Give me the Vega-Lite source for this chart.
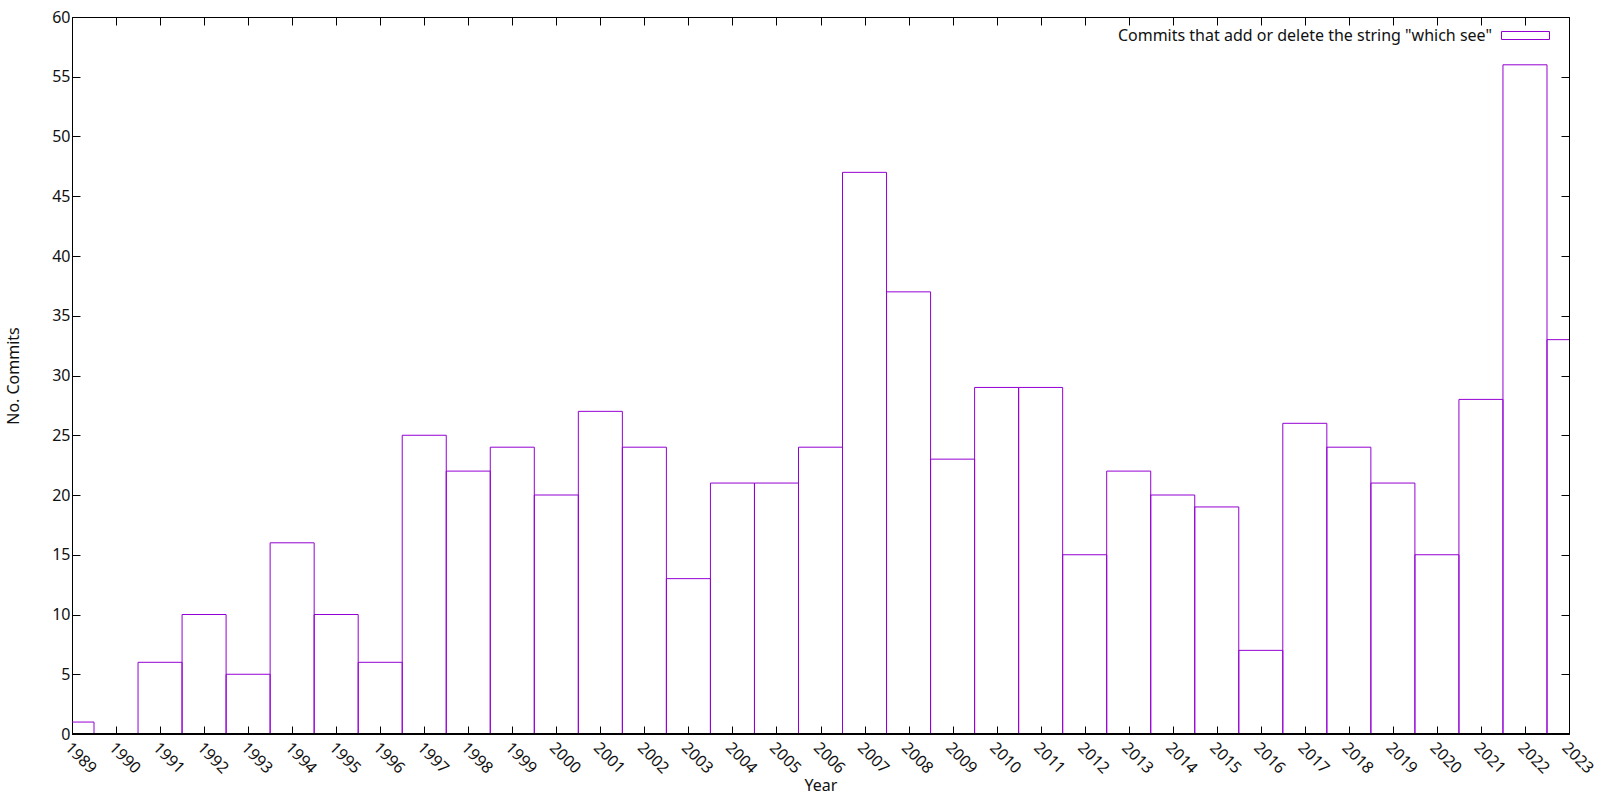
{
  "$schema": "https://vega.github.io/schema/vega-lite/v6.json",
  "width": 1497,
  "height": 717,
  "autosize": {"type": "none"},
  "padding": {"left": 72, "top": 17, "right": 31, "bottom": 66},
  "background": "white",
  "config": {
    "font": "Noto Sans",
    "view": {"stroke": "black", "strokeWidth": 1},
    "axis": {
      "domain": false, "grid": false, "ticks": true, "tickColor": "black", "tickSize": -8, "tickWidth": 1,
      "labelFont": "Noto Sans", "labelFontSize": 16, "labelColor": "#111111",
      "titleFont": "Noto Sans", "titleFontSize": 16, "titleFontWeight": "normal", "titleColor": "#111111",
      "labelOverlap": false, "labelFlush": false, "labelBound": false
    }
  },
  "data": {"values": [
    {"year": 1989, "commits": 1, "series": "Commits that add or delete the string \"which see\""},
    {"year": 1990, "commits": 0, "series": "Commits that add or delete the string \"which see\""},
    {"year": 1991, "commits": 6, "series": "Commits that add or delete the string \"which see\""},
    {"year": 1992, "commits": 10, "series": "Commits that add or delete the string \"which see\""},
    {"year": 1993, "commits": 5, "series": "Commits that add or delete the string \"which see\""},
    {"year": 1994, "commits": 16, "series": "Commits that add or delete the string \"which see\""},
    {"year": 1995, "commits": 10, "series": "Commits that add or delete the string \"which see\""},
    {"year": 1996, "commits": 6, "series": "Commits that add or delete the string \"which see\""},
    {"year": 1997, "commits": 25, "series": "Commits that add or delete the string \"which see\""},
    {"year": 1998, "commits": 22, "series": "Commits that add or delete the string \"which see\""},
    {"year": 1999, "commits": 24, "series": "Commits that add or delete the string \"which see\""},
    {"year": 2000, "commits": 20, "series": "Commits that add or delete the string \"which see\""},
    {"year": 2001, "commits": 27, "series": "Commits that add or delete the string \"which see\""},
    {"year": 2002, "commits": 24, "series": "Commits that add or delete the string \"which see\""},
    {"year": 2003, "commits": 13, "series": "Commits that add or delete the string \"which see\""},
    {"year": 2004, "commits": 21, "series": "Commits that add or delete the string \"which see\""},
    {"year": 2005, "commits": 21, "series": "Commits that add or delete the string \"which see\""},
    {"year": 2006, "commits": 24, "series": "Commits that add or delete the string \"which see\""},
    {"year": 2007, "commits": 47, "series": "Commits that add or delete the string \"which see\""},
    {"year": 2008, "commits": 37, "series": "Commits that add or delete the string \"which see\""},
    {"year": 2009, "commits": 23, "series": "Commits that add or delete the string \"which see\""},
    {"year": 2010, "commits": 29, "series": "Commits that add or delete the string \"which see\""},
    {"year": 2011, "commits": 29, "series": "Commits that add or delete the string \"which see\""},
    {"year": 2012, "commits": 15, "series": "Commits that add or delete the string \"which see\""},
    {"year": 2013, "commits": 22, "series": "Commits that add or delete the string \"which see\""},
    {"year": 2014, "commits": 20, "series": "Commits that add or delete the string \"which see\""},
    {"year": 2015, "commits": 19, "series": "Commits that add or delete the string \"which see\""},
    {"year": 2016, "commits": 7, "series": "Commits that add or delete the string \"which see\""},
    {"year": 2017, "commits": 26, "series": "Commits that add or delete the string \"which see\""},
    {"year": 2018, "commits": 24, "series": "Commits that add or delete the string \"which see\""},
    {"year": 2019, "commits": 21, "series": "Commits that add or delete the string \"which see\""},
    {"year": 2020, "commits": 15, "series": "Commits that add or delete the string \"which see\""},
    {"year": 2021, "commits": 28, "series": "Commits that add or delete the string \"which see\""},
    {"year": 2022, "commits": 56, "series": "Commits that add or delete the string \"which see\""},
    {"year": 2023, "commits": 33, "series": "Commits that add or delete the string \"which see\""}
  ]},
  "resolve": {"axis": {"x": "independent", "y": "independent"}},
  "layer": [
    {
      "mark": {"type": "bar", "orient": "vertical", "width": 44.03, "clip": true, "fill": "white", "fillOpacity": 0, "strokeWidth": 1},
      "encoding": {
        "x": {
          "field": "year", "type": "quantitative",
          "scale": {"domain": [1989, 2023], "nice": false, "zero": false, "padding": 0},
          "axis": {
            "orient": "bottom",
            "values": [1989,1990,1991,1992,1993,1994,1995,1996,1997,1998,1999,2000,2001,2002,2003,2004,2005,2006,2007,2008,2009,2010,2011,2012,2013,2014,2015,2016,2017,2018,2019,2020,2021,2022,2023],
            "format": "d", "labelAngle": 45, "labelAlign": "left", "labelBaseline": "top", "labelPadding": 13, "labelOffset": 1,
            "title": "Year", "titlePadding": 1
          }
        },
        "y": {
          "field": "commits", "type": "quantitative",
          "scale": {"domain": [0, 60], "nice": false, "zero": true},
          "axis": {
            "orient": "left",
            "values": [0,5,10,15,20,25,30,35,40,45,50,55,60],
            "labelPadding": 10,
            "title": "No. Commits", "titlePadding": 30
          }
        },
        "stroke": {
          "field": "series", "type": "nominal",
          "scale": {"range": ["#9400d3"]},
          "legend": {
            "title": null, "orient": "none", "legendX": 1429, "legendY": -6,
            "symbolType": "M-1,-0.1667H1V0.1667H-1Z", "symbolSize": 2304,
            "symbolFillColor": "transparent", "symbolStrokeWidth": 1, "symbolOpacity": 1,
            "labelAlign": "right", "labelOffset": -58, "labelFontSize": 16, "labelFont": "Noto Sans", "labelColor": "#111111", "labelLimit": 0
          }
        }
      }
    },
    {
      "mark": {"type": "point", "opacity": 0},
      "encoding": {
        "x": {
          "field": "year", "type": "quantitative",
          "axis": {
            "orient": "top", "labels": false, "title": null,
            "values": [1989,1990,1991,1992,1993,1994,1995,1996,1997,1998,1999,2000,2001,2002,2003,2004,2005,2006,2007,2008,2009,2010,2011,2012,2013,2014,2015,2016,2017,2018,2019,2020,2021,2022,2023]
          }
        },
        "y": {
          "field": "commits", "type": "quantitative",
          "axis": {
            "orient": "right", "labels": false, "title": null,
            "values": [0,5,10,15,20,25,30,35,40,45,50,55,60]
          }
        }
      }
    },
    {
      "mark": {"type": "rule", "color": "black", "strokeWidth": 1},
      "encoding": {
        "y": {"datum": 0, "type": "quantitative", "axis": null}
      }
    }
  ]
}
